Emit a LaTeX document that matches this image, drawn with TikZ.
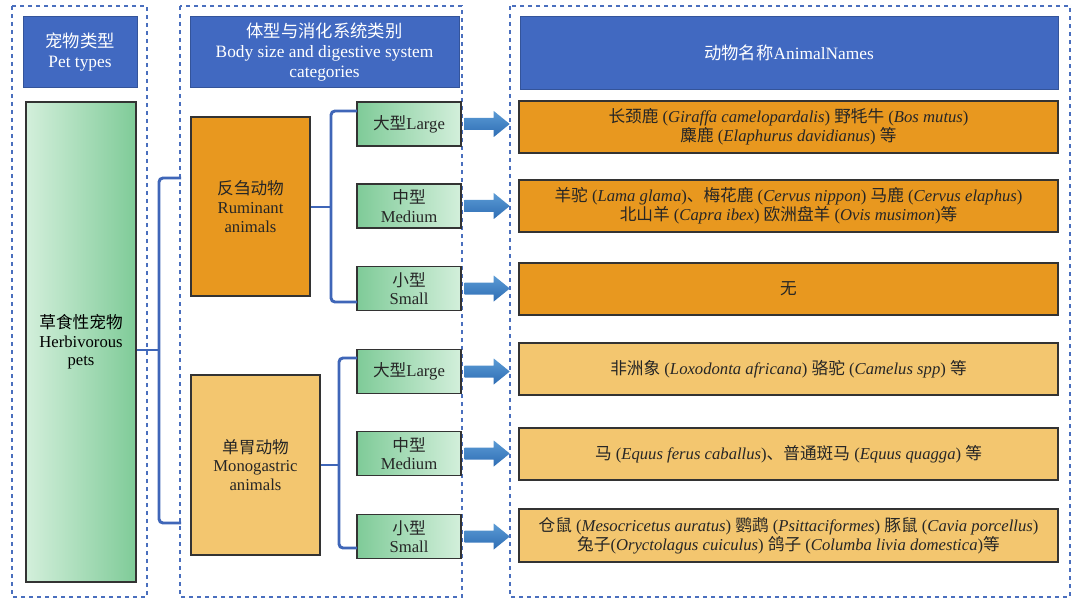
\documentclass[tikz,border=0pt]{standalone}
\usepackage{fontspec}
\setmainfont{Liberation Serif}
\newfontfamily\cjk{Noto Sans CJK SC}
\newcommand{\zh}[1]{{\cjk #1}}
\definecolor{hdr}{HTML}{4169C1}
\definecolor{orgA}{HTML}{E8981F}
\definecolor{orgB}{HTML}{F3C66F}
\definecolor{grnD}{HTML}{7FCB98}
\definecolor{grnL}{HTML}{D3EFDB}
\definecolor{dash}{HTML}{4A6FBE}
\definecolor{brk}{HTML}{3F66B8}
\definecolor{arL}{HTML}{5B9BD5}
\definecolor{arD}{HTML}{2E6DB4}
\begin{document}
\begin{tikzpicture}[x=0.75pt,y=-0.75pt,
  font=\fontsize{12.5}{14}\selectfont,
  dbox/.style={draw=dash,dashed,line width=1.3pt},
  hd/.style={fill=hdr,draw=hdr!80!black,text=white,align=center,inner sep=0pt,font=\fontsize{13}{15}\selectfont},
  sz/.style={draw=black!80,line width=1.1pt,left color=grnD,right color=grnL,align=center,inner sep=0pt,text=black!85},
  nm/.style={draw=black!80,line width=1.1pt,align=center,inner sep=0pt,text=black!85},
  br/.style={draw=brk,line width=2.2pt,rounded corners=3pt}]
\useasboundingbox (0,0) rectangle (1080,602);
% dashed frames
\draw[dbox] (12,6) rectangle (147,597);
\draw[dbox] (180,6) rectangle (462,597);
\draw[dbox] (510,6) rectangle (1070,597);
% headers
\node[hd,minimum width=114*0.75pt,minimum height=71*0.75pt] (h1) at (80,52) {\zh{宠物类型}\\Pet types};
\node[hd,minimum width=269*0.75pt,minimum height=71*0.75pt] (h2) at (324.5,52) {\zh{体型与消化系统类别}\\Body size and digestive system\\categories};
\node[hd,minimum width=538*0.75pt,minimum height=73*0.75pt] (h3) at (789,53) {\zh{动物名称}AnimalNames};
% pets
\node[draw=black!80,line width=1.1pt,left color=grnL,right color=grnD,align=center,
  minimum width=110*0.75pt,minimum height=480*0.75pt,inner sep=0pt] (pet) at (81,342)
  {\zh{草食性宠物}\\Herbivorous\\pets};
% categories
\node[nm,fill=orgA,minimum width=119*0.75pt,minimum height=179*0.75pt] (rum) at (250.5,206.5) {\zh{反刍动物}\\Ruminant\\animals};
\node[nm,fill=orgB,minimum width=129*0.75pt,minimum height=180*0.75pt] (mono) at (255.5,465) {\zh{单胃动物}\\Monogastric\\animals};
% sizes
\foreach \n/\y/\t in {rL/124/{\zh{大型}Large},rM/206/{\zh{中型}\\Medium},rS/288.5/{\zh{小型}\\Small},
                      mL/371.5/{\zh{大型}Large},mM/453.5/{\zh{中型}\\Medium},mS/536.5/{\zh{小型}\\Small}}
  \node[sz,minimum width=104*0.75pt,minimum height=44*0.75pt] (\n) at (409,\y) {\t};
% names
\node[nm,fill=orgA,minimum width=539*0.75pt,minimum height=52*0.75pt] (n1) at (788.5,127)
 {\zh{长颈鹿} (\textit{Giraffa camelopardalis}) \zh{野牦牛} (\textit{Bos mutus})\\\zh{麋鹿} (\textit{Elaphurus davidianus}) \zh{等}};
\node[nm,fill=orgA,minimum width=539*0.75pt,minimum height=52*0.75pt] (n2) at (788.5,206)
 {\zh{羊驼} (\textit{Lama glama})\zh{、}\zh{梅花鹿} (\textit{Cervus nippon}) \zh{马鹿} (\textit{Cervus elaphus})\\\zh{北山羊} (\textit{Capra ibex}) \zh{欧洲盘羊} (\textit{Ovis musimon})\zh{等}};
\node[nm,fill=orgA,minimum width=539*0.75pt,minimum height=52*0.75pt] (n3) at (788.5,289) {\zh{无}};
\node[nm,fill=orgB,minimum width=539*0.75pt,minimum height=52*0.75pt] (n4) at (788.5,369)
 {\zh{非洲象} (\textit{Loxodonta africana}) \zh{骆驼} (\textit{Camelus spp}) \zh{等}};
\node[nm,fill=orgB,minimum width=539*0.75pt,minimum height=52*0.75pt] (n5) at (788.5,454)
 {\zh{马} (\textit{Equus ferus caballus})\zh{、}\zh{普通斑马} (\textit{Equus quagga}) \zh{等}};
\node[nm,fill=orgB,minimum width=539*0.75pt,minimum height=53*0.75pt] (n6) at (788.5,535.5)
 {\zh{仓鼠} (\textit{Mesocricetus auratus}) \zh{鹦鹉} (\textit{Psittaciformes}) \zh{豚鼠} (\textit{Cavia porcellus})\\\zh{兔子}(\textit{Oryctolagus cuiculus}) \zh{鸽子} (\textit{Columba livia domestica})\zh{等}};
% arrows
\foreach \s in {rL,rM,rS,mL,mM,mS}
  \shade[top color=arL,bottom color=arD,shift={(\s.east)}]
    (3,-6) -- (32,-6) -- (32,-13) -- (48,0) -- (32,13) -- (32,6) -- (3,6) -- cycle;
% brackets
\coordinate (pb) at (159,350);
\draw[br,rounded corners=0pt] (pet.east|-pb) -- (pb);
\draw[br] (181,178) -- (159,178) -- (159,523) -- (181,523);
\coordinate (rb) at (331,207);
\draw[br,rounded corners=0pt] (rum.east|-rb) -- (rb);
\draw[br] (357,111) -- (331,111) -- (331,302) -- (357,302);
\coordinate (mb) at (339,465);
\draw[br,rounded corners=0pt] (mono.east|-mb) -- (mb);
\draw[br] (357,358) -- (339,358) -- (339,548) -- (357,548);
\end{tikzpicture}
\end{document}
